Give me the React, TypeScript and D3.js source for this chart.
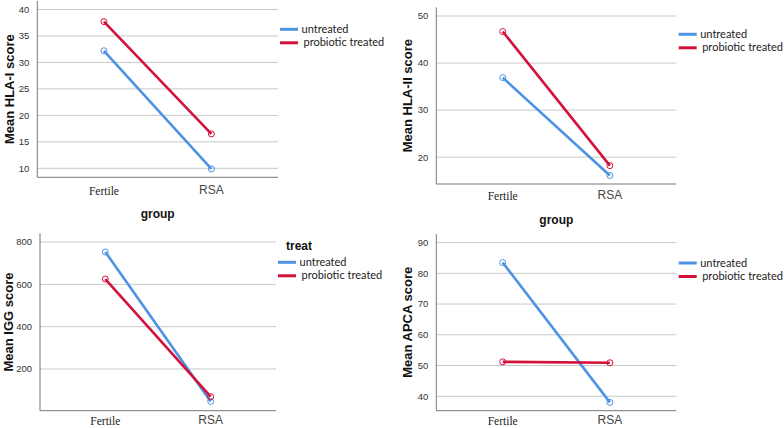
import React from "react";
import * as d3 from "d3";

const groups = ["Fertile", "RSA"];
const seriesNames = ["untreated", "probiotic treated"];

const hla1Untreated = [32.2, 9.9];
const hla1Probiotic = [37.7, 16.5];
const hla1Ticks = [10, 15, 20, 25, 30, 35, 40];

const hla2Untreated = [36.9, 16.1];
const hla2Probiotic = [46.7, 18.2];
const hla2Ticks = [20, 30, 40, 50];

const iggUntreated = [753, 47];
const iggProbiotic = [625, 69];
const iggTicks = [200, 400, 600, 800];

const apcaUntreated = [83.5, 38.0];
const apcaProbiotic = [51.2, 50.9];
const apcaTicks = [40, 50, 60, 70, 80, 90];

const BLUE = "#4D93E3";
const RED = "#D3113A";

type PanelProps = {
  left: number;
  right: number;
  top: number;
  bottom: number;
  domain: [number, number];
  ticks: number[];
  untreated: number[];
  probiotic: number[];
  yTitle: string;
  yTitleX: number;
  showGroup: boolean;
  legend: { x: number; y: number; treat?: boolean };
  tickLabelY: number;
};

function Panel(p: PanelProps) {
  const x = d3.scalePoint<string>().domain(groups).range([p.left, p.right]).padding(0.62);
  const y = d3.scaleLinear().domain(p.domain).range([p.bottom, p.top]);
  const line = d3
    .line<number>()
    .x((_, i) => x(groups[i]) as number)
    .y((d) => y(d));
  const series = [
    { name: seriesNames[0], vals: p.untreated, color: BLUE },
    { name: seriesNames[1], vals: p.probiotic, color: RED },
  ];
  const cy = (p.top + p.bottom) / 2;
  return (
    <g>
      {p.ticks.map((t) => (
        <g key={t}>
          <line x1={p.left} x2={p.right} y1={y(t)} y2={y(t)} stroke="#c8c8c8" strokeWidth={1} />
          <text x={p.left - 8} y={y(t)} dy="0.35em" textAnchor="end" fontSize={9.5} fill="#333" fontFamily="Arial, 'Liberation Sans', sans-serif">
            {t}
          </text>
        </g>
      ))}
      <line x1={p.left} x2={p.left} y1={p.top} y2={p.bottom} stroke="#777" strokeWidth={1} />
      <line x1={p.left} x2={p.right} y1={p.bottom} y2={p.bottom} stroke="#777" strokeWidth={1} />
      <text x={x("Fertile")} y={p.tickLabelY} dy="0.35em" textAnchor="middle" fontSize={11.5} fill="#222" fontFamily="'Liberation Serif', 'DejaVu Serif', serif">
        Fertile
      </text>
      <text x={x("RSA")} y={p.tickLabelY - 1} dy="0.35em" textAnchor="middle" fontSize={12} fill="#444" fontFamily="Arial, 'Liberation Sans', sans-serif">
        RSA
      </text>
      {p.showGroup && (
        <text x={(p.left + p.right) / 2} y={p.bottom + 36} dy="0.35em" textAnchor="middle" fontSize={12} fontWeight="bold" fill="#111" fontFamily="Arial, 'Liberation Sans', sans-serif">
          group
        </text>
      )}
      <text
        transform={`translate(${p.yTitleX},${cy}) rotate(-90)`}
        textAnchor="middle"
        dy="0.35em"
        fontSize={13}
        fontWeight="bold"
        fill="#111"
        fontFamily="Arial, 'Liberation Sans', sans-serif"
      >
        {p.yTitle}
      </text>
      {series.map((s) => (
        <g key={s.name}>
          <path d={line(s.vals) || ""} fill="none" stroke={s.color} strokeWidth={2.6} />
          {s.vals.map((v, i) => (
            <circle key={i} cx={x(groups[i])} cy={y(v)} r={3} fill="none" stroke={s.color} strokeWidth={1} />
          ))}
        </g>
      ))}
      <g transform={`translate(${p.legend.x},${p.legend.y})`}>
        {p.legend.treat && (
          <text x={8} y={-17} dy="0.35em" fontSize={12} fontWeight="bold" fill="#111" fontFamily="Arial, 'Liberation Sans', sans-serif">
            treat
          </text>
        )}
        {series.map((s, i) => (
          <g key={s.name} transform={`translate(0,${i * 13.5})`}>
            <line x1={0} x2={18} y1={0} y2={0} stroke={s.color} strokeWidth={3} />
            <text x={i === 0 ? 21.5 : 23.5} y={0} dy="0.33em" fontSize={11} fill="#222" fontFamily="Lato, 'Open Sans', sans-serif">
              {s.name}
            </text>
          </g>
        ))}
      </g>
    </g>
  );
}

export default function App() {
  return (
    <svg width={784} height={428} style={{ position: "absolute", left: 0, top: 0, background: "#fff" }}>
      <rect width={784} height={428} fill="#fff" />
      <Panel
        left={37.3}
        right={278}
        top={1}
        bottom={177.3}
        domain={[8.3, 41.6]}
        ticks={hla1Ticks}
        untreated={hla1Untreated}
        probiotic={hla1Probiotic}
        yTitle="Mean HLA-I score"
        yTitleX={9}
        showGroup={true}
        legend={{ x: 280, y: 29.3 }}
        tickLabelY={191}
      />
      <Panel
        left={436.3}
        right={676.3}
        top={7.3}
        bottom={184}
        domain={[14.3, 51.85]}
        ticks={hla2Ticks}
        untreated={hla2Untreated}
        probiotic={hla2Probiotic}
        yTitle="Mean HLA-II score"
        yTitleX={407}
        showGroup={true}
        legend={{ x: 678.7, y: 34.3 }}
        tickLabelY={196}
      />
      <Panel
        left={40}
        right={276}
        top={233.3}
        bottom={410.7}
        domain={[3, 841]}
        ticks={iggTicks}
        untreated={iggUntreated}
        probiotic={iggProbiotic}
        yTitle="Mean IGG score"
        yTitleX={8}
        showGroup={false}
        legend={{ x: 278, y: 262.3, treat: true }}
        tickLabelY={421}
      />
      <Panel
        left={436.3}
        right={676.3}
        top={234}
        bottom={410.7}
        domain={[35.3, 92.8]}
        ticks={apcaTicks}
        untreated={apcaUntreated}
        probiotic={apcaProbiotic}
        yTitle="Mean APCA score"
        yTitleX={407}
        showGroup={false}
        legend={{ x: 678.7, y: 263 }}
        tickLabelY={421}
      />
    </svg>
  );
}
